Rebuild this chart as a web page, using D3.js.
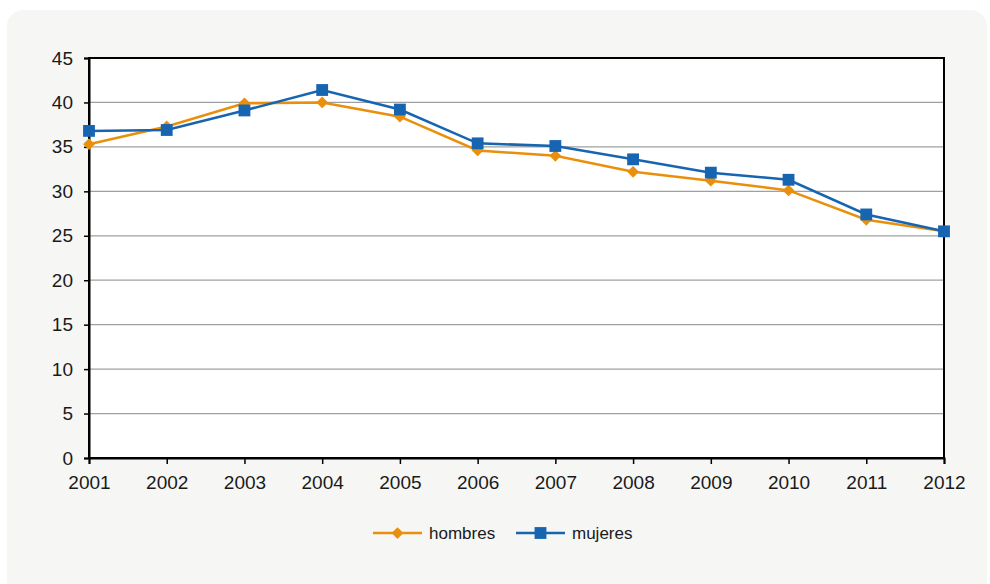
<!DOCTYPE html>
<html>
<head>
<meta charset="utf-8">
<script src="https://cdn.jsdelivr.net/npm/d3@7"></script>
<style>
  html, body { margin: 0; padding: 0; background: #ffffff; }
  svg { display: block; }
  text { font-family: "Liberation Sans", Arial, sans-serif; fill: #1a1a1a; }
</style>
</head>
<body>
<svg id="chart" width="990" height="584"></svg>
<script>
// Annual values per series
const years = [2001, 2002, 2003, 2004, 2005, 2006, 2007, 2008, 2009, 2010, 2011, 2012];
const hombres = [35.3, 37.3, 39.9, 40.0, 38.4, 34.6, 34.0, 32.2, 31.2, 30.1, 26.8, 25.5];
const mujeres = [36.8, 36.9, 39.1, 41.4, 39.2, 35.4, 35.1, 33.6, 32.1, 31.3, 27.4, 25.5];
const yTicks = [0, 5, 10, 15, 20, 25, 30, 35, 40, 45];
const seriesNames = ["hombres", "mujeres"];

const colors = { hombres: "#ea8f0c", mujeres: "#1764b1" };
const FONT = "'Liberation Sans', Arial, sans-serif";

const svg = d3.select("#chart");

// Card background
svg.append("rect")
  .attr("x", 7).attr("y", 10)
  .attr("width", 980).attr("height", 600)
  .attr("rx", 16).attr("ry", 16)
  .attr("fill", "#f6f6f4");

const plot = { left: 89, right: 944, top: 58, bottom: 458 };

const x = d3.scalePoint().domain(years).range([plot.left, plot.right]);
const y = d3.scaleLinear().domain([0, 45]).range([plot.bottom, plot.top]);

// Plot area
svg.append("rect")
  .attr("x", plot.left).attr("y", plot.top)
  .attr("width", plot.right - plot.left).attr("height", plot.bottom - plot.top)
  .attr("fill", "#ffffff");

// Horizontal gridlines
svg.append("g")
  .selectAll("line")
  .data(yTicks.filter(t => t > 0 && t < 45))
  .join("line")
  .attr("x1", plot.left).attr("x2", plot.right)
  .attr("y1", d => y(d)).attr("y2", d => y(d))
  .attr("stroke", "#a0a0a0").attr("stroke-width", 1.3);

// Frame
svg.append("rect")
  .attr("x", plot.left).attr("y", plot.top)
  .attr("width", plot.right - plot.left).attr("height", plot.bottom - plot.top)
  .attr("fill", "none").attr("stroke", "#000").attr("stroke-width", 2);

// Y axis
const yAxis = svg.append("g")
  .attr("transform", `translate(${plot.left},0)`)
  .call(d3.axisLeft(y).tickValues(yTicks).tickSize(5).tickPadding(11).tickFormat(d3.format("d")));
yAxis.select(".domain").attr("stroke", "#000").attr("stroke-width", 2);
yAxis.selectAll(".tick line").attr("stroke", "#000").attr("stroke-width", 1.5);
yAxis.selectAll(".tick text").attr("font-size", 19).attr("font-family", FONT).attr("fill", "#1a1a1a");

// X axis
const xAxis = svg.append("g")
  .attr("transform", `translate(0,${plot.bottom})`)
  .call(d3.axisBottom(x).tickSize(6).tickPadding(12));
xAxis.select(".domain").attr("stroke", "#000").attr("stroke-width", 2);
xAxis.selectAll(".tick line").attr("stroke", "#000").attr("stroke-width", 1.5);
xAxis.selectAll(".tick text").attr("font-size", 19).attr("font-family", FONT).attr("fill", "#1a1a1a");

const line = d3.line().x((d, i) => x(years[i])).y(d => y(d));
const diamond = d3.symbol().type(d3.symbolDiamond2).size(88);
const square = d3.symbol().type(d3.symbolSquare).size(140);

function drawSeries(values, color, sym) {
  const g = svg.append("g");
  g.append("path")
    .datum(values)
    .attr("d", line)
    .attr("fill", "none")
    .attr("stroke", color)
    .attr("stroke-width", 2.5);
  g.selectAll("path.m")
    .data(values)
    .join("path")
    .attr("class", "m")
    .attr("transform", (d, i) => `translate(${x(years[i])},${y(d)})`)
    .attr("d", sym)
    .attr("fill", color);
}

drawSeries(hombres, colors.hombres, diamond);
drawSeries(mujeres, colors.mujeres, square);

// Legend
const legend = svg.append("g");
const legendItems = [
  { name: seriesNames[0], color: colors.hombres, sym: diamond, x0: 373 },
  { name: seriesNames[1], color: colors.mujeres, sym: square, x0: 516 }
];
legendItems.forEach(it => {
  const g = legend.append("g").attr("transform", `translate(${it.x0},533)`);
  g.append("line").attr("x1", 0).attr("x2", 49).attr("y1", 0).attr("y2", 0)
    .attr("stroke", it.color).attr("stroke-width", 2.5);
  g.append("path").attr("transform", "translate(24.5,0)").attr("d", it.sym).attr("fill", it.color);
  g.append("text").attr("x", 56).attr("y", 0).attr("dy", "0.35em")
    .attr("font-size", 17).text(it.name);
});
</script>
</body>
</html>
